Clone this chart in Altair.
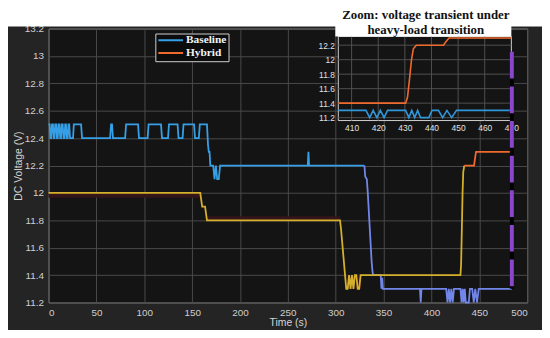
import altair as alt
import pandas as pd

# ---------------- data ----------------
baseline_t = [0, 1.2, 2.0, 2.8, 3.6, 4.6, 5.4, 6.2, 7.0, 8.0, 8.8, 9.6, 10.4, 11.4, 12.2, 13.0,
              13.8, 14.8, 15.6, 16.6, 17.4, 18.2, 19.0, 20.0, 20.8, 21.6, 22.4, 25.6, 26.4, 34.0, 35.0,
              64.3, 65.3, 66.3, 67.3, 80.0, 81.0, 93.5, 94.5, 103.5, 104.5, 117.5, 118.5,
              124.8, 125.8, 134.8, 135.8, 140.0, 141.0, 152.0, 153.0, 157.0, 158.0, 165.5,
              166.6, 167.4, 168.2, 169.0, 172.0, 173.4, 174.8, 176.2, 177.8, 179.2,
              270.8, 271.5, 272.2, 330.0, 330.8, 332.5, 333.5, 335.5, 337.5, 338.5, 339.3,
              347.0, 347.8, 348.5, 349.3, 388.0, 388.8, 389.6, 405.0,
              415.4, 416.8, 418.1, 419.5, 420.8, 422.2, 423.5,
              430.3, 431.5, 432.6, 433.7, 434.8, 435.9, 439.0, 440.2,
              442.6, 444.2, 445.8, 447.6, 449.4, 470.0, 484.0]
baseline_v = [12.5, 12.5, 12.4, 12.4, 12.5, 12.5, 12.4, 12.4, 12.5, 12.5, 12.4, 12.4, 12.5, 12.5, 12.4, 12.4,
              12.5, 12.5, 12.4, 12.4, 12.5, 12.5, 12.4, 12.4, 12.5, 12.5, 12.4, 12.4, 12.5, 12.5, 12.4,
              12.4, 12.5, 12.5, 12.4, 12.4, 12.5, 12.5, 12.4, 12.4, 12.5, 12.5, 12.4,
              12.4, 12.5, 12.5, 12.4, 12.4, 12.5, 12.5, 12.4, 12.4, 12.5, 12.5,
              12.35, 12.3, 12.3, 12.2, 12.2, 12.1, 12.2, 12.1, 12.1, 12.2,
              12.2, 12.3, 12.2, 12.2, 12.12, 12.1, 12.0, 11.75, 11.5, 11.42, 11.4,
              11.4, 11.3, 11.38, 11.3, 11.3, 11.2, 11.3, 11.3,
              11.3, 11.2, 11.3, 11.2, 11.3, 11.2, 11.3,
              11.3, 11.2, 11.3, 11.2, 11.3, 11.2, 11.2, 11.3,
              11.3, 11.2, 11.3, 11.2, 11.3, 11.3, 11.3]

hybrid_t = [0, 158.5, 160.5, 163.5, 165.5, 304.5, 305.5, 311.0, 312.5, 314.0, 315.5, 317.0,
            318.5, 320.0, 321.5, 323.0, 324.5, 326.0, 405.0, 430.3, 431.0, 431.8, 432.5,
            433.2, 434.3, 444.5, 445.5, 446.6, 470.0, 484.0]
hybrid_v = [12.0, 12.0, 11.9, 11.9, 11.8, 11.8, 11.74, 11.3, 11.3, 11.4, 11.3, 11.4,
            11.3, 11.4, 11.4, 11.3, 11.3, 11.4, 11.4, 11.4, 11.48, 11.75, 12.0,
            12.15, 12.2, 12.2, 12.25, 12.3, 12.3, 12.3]

# faint tinted bands seen along the Hybrid trace
tint_t0 = [0, 165.5, 311.0]
tint_t1 = [158.5, 304.5, 327.0]
tint_v0 = [11.965, 11.8, 11.3]
tint_v1 = [12.0, 11.83, 11.4]

x_ticks = [0, 50, 100, 150, 200, 250, 300, 350, 400, 450, 500]
y_ticks = [11.2, 11.4, 11.6, 11.8, 12.0, 12.2, 12.4, 12.6, 12.8, 13.0, 13.2]
inset_x_ticks = [410, 420, 430, 440, 450, 460, 470]
inset_y_ticks = [11.2, 11.4, 11.6, 11.8, 12.0, 12.2]

marker_t = [484]
marker_top = [13.03]
marker_bottom = [11.3]

inset_title = ["Zoom: voltage transient under", "heavy-load transition"]
series_names = ["Baseline", "Hybrid"]

# ---------------- layout / style ----------------
W, H = 484, 277
IL, IR, IT, IB = 293, 468, 8, 93          # inset frame inside plot (px)
IX0, IX1 = 405, 470                      # inset x domain
IY0, IY1 = 11.16, 12.32                  # inset y domain
kx = (IR - IL) / (IX1 - IX0)
ky = (IB - IT) / (IY1 - IY0)
ixdom = [IX0 - IL / kx, IX1 + (W - IR) / kx]
iydom = [IY0 - (H - IB) / ky, IY1 + IT / ky]

FIG_BG = "#242424"
PLOT_BG = "#141414"
GRID = "#4a4a4a"
NARROW = "Liberation Sans Narrow, Liberation Sans, Arial"
BLUE = "#36a0e6"
LAVENDER = "#7286ea"
YELLOW = "#d4b02c"
ORANGE = "#ee6a2c"
PURPLE = "#8a46cc"
TINT = "#33151a"

b = pd.DataFrame({"t": baseline_t, "v": baseline_v, "series": series_names[0]})
h = pd.DataFrame({"t": hybrid_t, "v": hybrid_v, "series": series_names[1]})
B_SPLIT, H_SPLIT = 330.0, 434.3
main_df = pd.concat([
    b[b.t <= B_SPLIT].assign(seg="Baseline"),
    b[b.t >= B_SPLIT].assign(seg="Baseline late"),
    h[h.t <= H_SPLIT].assign(seg="Hybrid early"),
    h[h.t >= H_SPLIT].assign(seg="Hybrid"),
], ignore_index=True)
inset_df = pd.concat([b, h], ignore_index=True)
tint_df = pd.DataFrame({"t0": tint_t0, "t1": tint_t1, "v0": tint_v0, "v1": tint_v1})

xs = alt.Scale(domain=[0, 500], nice=False, zero=False)
ys = alt.Scale(domain=[11.2, 13.2], nice=False, zero=False)
ixs = alt.Scale(domain=ixdom, nice=False, zero=False)
iys = alt.Scale(domain=iydom, nice=False, zero=False)

main_x_axis = alt.Axis(values=x_ticks, grid=True, gridColor=GRID, domain=False, ticks=False, tickSize=0,
                       labelPadding=5, labelColor="#cfcfcf", labelFont=NARROW, labelFontSize=10,
                       title="Time (s)", titleColor="#d6d6d6", titleFont="Liberation Sans",
                       titleFontSize=10.5, titleFontWeight="normal", titlePadding=0)
main_y_axis = alt.Axis(values=y_ticks, format="~g", grid=True, gridColor=GRID, domain=False, ticks=False,
                       tickSize=0, labelPadding=5, labelColor="#cfcfcf", labelFont=NARROW, labelFontSize=10,
                       title="DC Voltage (V)", titleColor="#d6d6d6", titleFont="Liberation Sans",
                       titleFontSize=10.5, titleFontWeight="normal", titlePadding=1)

inset_x_axis = alt.Axis(orient="bottom", offset=-(H - IB), values=inset_x_ticks, grid=False, domain=False,
                        ticks=False, tickSize=0, labelPadding=3, labelColor="#e2e2e2", labelFont=NARROW,
                        labelFontSize=8.5, title=None)
inset_y_axis = alt.Axis(orient="left", offset=-IL, values=inset_y_ticks, format="~g", grid=False,
                        domain=False, ticks=False, tickSize=0, labelPadding=4, labelColor="#e2e2e2",
                        labelFont=NARROW, labelFontSize=8.5, title=None)

# ---------------- main plot ----------------
tints = alt.Chart(tint_df).mark_rect(color=TINT).encode(
    x=alt.X("t0:Q", scale=xs, axis=main_x_axis), x2="t1:Q",
    y=alt.Y("v0:Q", scale=ys, axis=main_y_axis), y2="v1:Q")
lines_main = alt.Chart(main_df).mark_line(strokeWidth=1.8).encode(
    x=alt.X("t:Q", scale=xs, axis=main_x_axis),
    y=alt.Y("v:Q", scale=ys, axis=main_y_axis),
    color=alt.Color("seg:N",
                    scale=alt.Scale(domain=["Baseline", "Hybrid", "Baseline late", "Hybrid early"],
                                    range=[BLUE, ORANGE, LAVENDER, YELLOW]),
                    legend=alt.Legend(values=series_names, title=None, orient="none", legendX=108,
                                      legendY=5, direction="vertical", symbolType="stroke",
                                      symbolSize=625, symbolStrokeWidth=2, clipHeight=9.5, rowPadding=0,
                                      labelOffset=2, padding=2, fillColor="#0c0c0c",
                                      strokeColor="#cfcfcf", labelFont="Liberation Serif",
                                      labelFontWeight="bold", labelFontSize=11.5, labelColor="#f2f2f2")),
    order="t:Q",
)
main_base = alt.layer(tints, lines_main)

# ---------------- inset ----------------
frame_df = pd.DataFrame({"x0": [IX0], "x1": [IX1], "y0": [IY0], "y1": [IY1]})
inset_bg = alt.Chart(frame_df).mark_rect(fill=PLOT_BG, stroke="#d0d0d0", strokeWidth=1).encode(
    x=alt.X("x0:Q", scale=ixs, axis=inset_x_axis), x2="x1:Q",
    y=alt.Y("y0:Q", scale=iys, axis=inset_y_axis), y2="y1:Q")
vgrid = alt.Chart(pd.DataFrame({"t": inset_x_ticks[:-1], "y0": IY0, "y1": IY1})).mark_rule(
    color="#505050", strokeWidth=1).encode(
    x=alt.X("t:Q", scale=ixs, axis=inset_x_axis),
    y=alt.Y("y0:Q", scale=iys, axis=inset_y_axis), y2="y1:Q")
hgrid = alt.Chart(pd.DataFrame({"v": inset_y_ticks, "x0": IX0, "x1": IX1})).mark_rule(
    color="#505050", strokeWidth=1).encode(
    x=alt.X("x0:Q", scale=ixs, axis=inset_x_axis), x2="x1:Q",
    y=alt.Y("v:Q", scale=iys, axis=inset_y_axis))


def inset_line(name, colour):
    return alt.Chart(inset_df).transform_filter(
        f"datum.series == '{name}' && datum.t >= {IX0} && datum.t <= {IX1}"
    ).mark_line(strokeWidth=1.6, color=colour).encode(
        x=alt.X("t:Q", scale=ixs, axis=inset_x_axis),
        y=alt.Y("v:Q", scale=iys, axis=inset_y_axis),
        order="t:Q")


inset = alt.layer(inset_bg, vgrid, hgrid, inset_line("Baseline", "#2f97d8"), inset_line("Hybrid", ORANGE))

# ---------------- overlays: white strip, inset title, marker ----------------
one = pd.DataFrame({"k": [0]})
white_strip = alt.Chart(one).mark_rect(fill="white").encode(
    x=alt.value(-60), x2=alt.value(W + 40), y=alt.value(-60), y2=alt.value(-2))
white_box = alt.Chart(one).mark_rect(fill="white").encode(
    x=alt.value(IL - 3), x2=alt.value(IR), y=alt.value(-60), y2=alt.value(IT))
title_layers = [
    alt.Chart(pd.DataFrame({"line": [txt]})).mark_text(
        font="Liberation Serif", fontWeight="bold", fontSize=13, color="#111111",
        align="center", baseline="alphabetic").encode(
        text="line:N", x=alt.value((IL + IR) / 2 + 1), y=alt.value(yy))
    for txt, yy in zip(inset_title, [-9.5, 5])
]
marker_df = pd.DataFrame({"t": marker_t, "top": marker_top, "bottom": marker_bottom})
marker_black = alt.Chart(marker_df).mark_rule(color="black", strokeWidth=4).encode(
    x=alt.X("t:Q", scale=xs, axis=None), y=alt.Y("top:Q", scale=ys, axis=None), y2="bottom:Q")
marker_purple = alt.Chart(marker_df).mark_rule(color=PURPLE, strokeWidth=4, strokeDash=[27, 8]).encode(
    x=alt.X("t:Q", scale=xs, axis=None), y=alt.Y("top:Q", scale=ys, axis=None), y2="bottom:Q")
main_top = alt.layer(marker_black, marker_purple)

chart = alt.layer(
    main_base, inset, main_top, white_strip, white_box, *title_layers
).resolve_scale(x="independent", y="independent").properties(
    width=W, height=H, autosize="none",
    padding={"left": 41, "top": 19, "right": 15, "bottom": 26},
    background=FIG_BG,
).configure_view(fill=PLOT_BG, stroke="#8e8e8e", strokeWidth=1)

chart.save("out.html", embed_options={"renderer": "svg", "actions": False})
